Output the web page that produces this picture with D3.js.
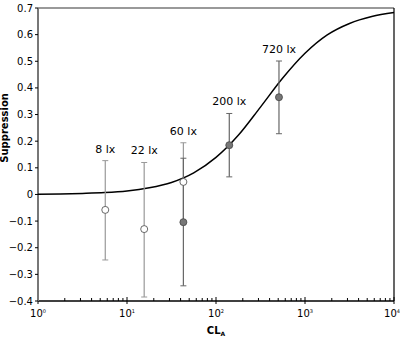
<!DOCTYPE html>
<html lang="en">
<head>
    <meta charset="UTF-8">
    <title>Suppression vs CLA</title>
    <script src="https://d3js.org/d3.v7.min.js"></script>
    <style>
        body { margin: 0; background: #fff; }
        text { font-family: "DejaVu Sans", Verdana, sans-serif; }
    </style>
</head>
<body>
    <div id="chart"></div>
    <script>
        var width = 400,
            height = 338;
        var margin = {top: 8, right: 6, bottom: 37, left: 38};

        // measured points
        var labels = ['8 lx', '22 lx', '60 lx', '60 lx', '200 lx', '720 lx'];
        var cla = [5.7, 15.6, 43, 43, 141, 510];
        var supp = [-0.058, -0.13, 0.047, -0.104, 0.185, 0.365];
        var errHi = [0.127, 0.12, 0.194, 0.136, 0.304, 0.501];
        var errLo = [-0.246, -0.385, -0.1, -0.343, 0.066, 0.228];
        var filled = [false, false, false, true, true, true];
        var showLabel = [true, true, true, false, true, true];

        // model curve (CLA, suppression)
        var curveX = [1, 1.78, 3.16, 5.62, 10, 17.8, 31.6, 56.2, 100, 178, 316, 562, 1000, 1778, 3162, 5623, 10000];
        var curveY = [0.001, 0.002, 0.004, 0.007, 0.013, 0.025, 0.045, 0.081, 0.139, 0.222, 0.328, 0.437, 0.530, 0.599, 0.642, 0.668, 0.683];

        var yTicks = [-0.4, -0.3, -0.2, -0.1, 0, 0.1, 0.2, 0.3, 0.4, 0.5, 0.6, 0.7];
        var xTicks = [1, 10, 100, 1000, 10000];

        var w = width - margin.left - margin.right,
            h = height - margin.top - margin.bottom;

        var svg = d3.select('#chart')
            .append('svg')
            .attr('width', width)
            .attr('height', height)
            .append('g')
            .attr('transform', 'translate(' + margin.left + ',' + margin.top + ')');

        var x = d3.scaleLog().domain([1, 10000]).range([0, w]);
        var y = d3.scaleLinear().domain([-0.4, 0.7]).range([h, 0]);

        // frame
        svg.append('line').attr('x1', 0).attr('x2', w).attr('y1', 0).attr('y2', 0)
            .style('stroke', '#777').style('stroke-width', 1.5);
        svg.append('line').attr('x1', w).attr('x2', w).attr('y1', 0).attr('y2', h)
            .style('stroke', '#000').style('stroke-width', 1.2);

        // minor x ticks
        var minor = [];
        for (var d = 1; d < 10000; d *= 10)
            for (var k = 2; k < 10; k++) minor.push(d * k);
        svg.append('g').selectAll('line')
            .data(minor)
            .enter()
            .append('line')
            .attr('x1', (d) => x(d)).attr('x2', (d) => x(d))
            .attr('y1', h).attr('y2', h - 3)
            .style('stroke', '#000');

        // x axis
        var gx = svg.append('g').attr('transform', 'translate(0,' + h + ')');
        gx.append('line').attr('x1', 0).attr('x2', w).style('stroke', '#000').style('stroke-width', 1.3);
        gx.selectAll('.major')
            .data(xTicks)
            .enter()
            .append('line')
            .attr('x1', (d) => x(d)).attr('x2', (d) => x(d))
            .attr('y1', -4).attr('y2', 3)
            .style('stroke', '#000');
        var xl = gx.selectAll('.xl')
            .data(xTicks)
            .enter()
            .append('text')
            .attr('x', (d, i) => i == xTicks.length - 1 ? x(d) + margin.right : x(d))
            .attr('y', 16)
            .attr('text-anchor', (d, i) => i == xTicks.length - 1 ? 'end' : 'middle')
            .attr('font-size', '10px');
        xl.append('tspan').text('10');
        xl.append('tspan').attr('dy', -4).attr('font-size', '5px').text((d) => Math.round(Math.log10(d)));

        // y axis
        var gy = svg.append('g');
        gy.append('line').attr('y1', 0).attr('y2', h).style('stroke', '#777').style('stroke-width', 2);
        gy.selectAll('.yt')
            .data(yTicks)
            .enter()
            .append('line')
            .attr('x1', -3).attr('x2', 0)
            .attr('y1', (d) => y(d)).attr('y2', (d) => y(d))
            .style('stroke', '#000');
        gy.selectAll('.yl')
            .data(yTicks)
            .enter()
            .append('text')
            .attr('x', -5)
            .attr('y', (d) => y(d))
            .attr('dy', '0.35em')
            .attr('text-anchor', 'end')
            .attr('font-size', '10px')
            .text((d) => d3.format('')(+d.toFixed(1)));

        // axis titles
        svg.append('text')
            .attr('transform', 'translate(' + (-30) + ',' + (y(0.25)) + ') rotate(-90)')
            .attr('text-anchor', 'middle')
            .attr('font-size', '10px')
            .attr('font-weight', 'bold')
            .text('Suppression');
        var xt = svg.append('text')
            .attr('x', x(100))
            .attr('y', h + 33)
            .attr('text-anchor', 'middle')
            .attr('font-size', '10px')
            .attr('font-weight', 'bold');
        xt.append('tspan').text('CL');
        xt.append('tspan').attr('dy', 2).attr('font-size', '6px').text('A');

        // curve
        var curve = curveX.map((d, i) => [d, curveY[i]]);
        svg.append('path')
            .datum(curve)
            .attr('fill', 'none')
            .style('stroke', '#000')
            .style('stroke-width', 1.5)
            .attr('d', d3.line().x((d) => x(d[0])).y((d) => y(d[1])).curve(d3.curveMonotoneX));

        var pts = cla.map((d, i) => ({x: d, y: supp[i], hi: errHi[i], lo: errLo[i], f: filled[i], label: labels[i], show: showLabel[i]}));
        var barColor = (d) => d.f ? '#666' : '#999';

        // error bars
        var eb = svg.append('g').selectAll('g')
            .data(pts)
            .enter()
            .append('g');
        eb.append('line')
            .attr('x1', (d) => x(d.x)).attr('x2', (d) => x(d.x))
            .attr('y1', (d) => y(d.hi)).attr('y2', (d) => y(d.lo))
            .style('stroke', barColor).style('stroke-width', 1.2);
        eb.append('line')
            .attr('x1', (d) => x(d.x) - 3).attr('x2', (d) => x(d.x) + 3)
            .attr('y1', (d) => y(d.hi)).attr('y2', (d) => y(d.hi))
            .style('stroke', barColor);
        eb.append('line')
            .attr('x1', (d) => x(d.x) - 3).attr('x2', (d) => x(d.x) + 3)
            .attr('y1', (d) => y(d.lo)).attr('y2', (d) => y(d.lo))
            .style('stroke', barColor);

        // points
        svg.append('g').selectAll('circle')
            .data(pts)
            .enter()
            .append('circle')
            .attr('cx', (d) => x(d.x))
            .attr('cy', (d) => y(d.y))
            .attr('r', 3.5)
            .attr('fill', (d) => d.f ? '#777' : '#fff')
            .style('stroke', '#444')
            .style('stroke-width', 0.8);

        // labels
        svg.append('g').selectAll('text')
            .data(pts.filter((d) => d.show))
            .enter()
            .append('text')
            .attr('x', (d) => x(d.x))
            .attr('y', (d) => y(d.hi) - 8)
            .attr('text-anchor', 'middle')
            .attr('font-size', '11px')
            .text((d) => d.label);
    </script>
</body>
</html>
